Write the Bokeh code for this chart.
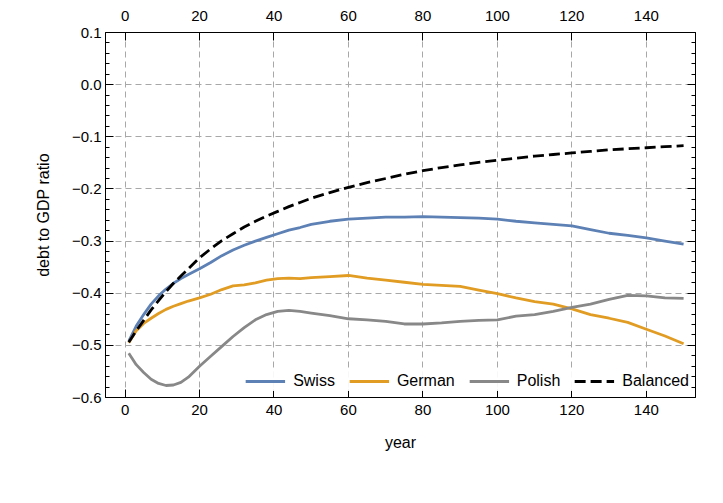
import numpy as np
from bokeh.plotting import figure
from bokeh.models import LinearAxis, FixedTicker, Legend, LegendItem, Range1d
from bokeh.embed import file_html
from bokeh.resources import INLINE

# ---- data ----
years = [1, 3, 5, 7, 9, 11, 13, 15, 17, 20, 23, 26, 29, 32, 35, 38, 41, 44, 47, 50,
         55, 60, 65, 70, 75, 80, 85, 90, 95, 100, 105, 110, 115, 120, 125, 130, 135, 140, 145, 150]

swiss = [-0.492, -0.463, -0.441, -0.421, -0.405, -0.392, -0.381, -0.372, -0.364, -0.353,
         -0.341, -0.328, -0.317, -0.308, -0.300, -0.293, -0.286, -0.279, -0.274, -0.268,
         -0.262, -0.258, -0.256, -0.254, -0.254, -0.253, -0.254, -0.255, -0.256, -0.258,
         -0.262, -0.265, -0.268, -0.271, -0.278, -0.285, -0.289, -0.294, -0.300, -0.306]

german = [-0.495, -0.472, -0.458, -0.448, -0.439, -0.431, -0.425, -0.420, -0.415, -0.409,
          -0.402, -0.393, -0.386, -0.384, -0.380, -0.375, -0.372, -0.371, -0.372, -0.370,
          -0.368, -0.366, -0.371, -0.375, -0.379, -0.383, -0.385, -0.387, -0.394, -0.401,
          -0.409, -0.416, -0.421, -0.430, -0.441, -0.448, -0.456, -0.469, -0.482, -0.497]

polish = [-0.515, -0.537, -0.552, -0.565, -0.573, -0.577, -0.576, -0.571, -0.561, -0.540,
          -0.521, -0.502, -0.483, -0.466, -0.451, -0.441, -0.435, -0.433, -0.435, -0.438,
          -0.443, -0.449, -0.451, -0.454, -0.459, -0.459, -0.457, -0.454, -0.452, -0.451,
          -0.444, -0.441, -0.435, -0.427, -0.421, -0.412, -0.404, -0.405, -0.409, -0.410]

balanced = [-0.494, -0.472, -0.452, -0.432, -0.414, -0.397, -0.381, -0.367, -0.353, -0.332,
            -0.315, -0.299, -0.286, -0.273, -0.262, -0.252, -0.243, -0.234, -0.226, -0.218,
            -0.207, -0.197, -0.188, -0.180, -0.172, -0.165, -0.159, -0.154, -0.149, -0.145,
            -0.141, -0.137, -0.134, -0.131, -0.128, -0.125, -0.123, -0.121, -0.119, -0.117]

series_names = ["Swiss", "German", "Polish", "Balanced"]

x_ticks = [0, 20, 40, 60, 80, 100, 120, 140]
y_ticks = [-0.6, -0.5, -0.4, -0.3, -0.2, -0.1, 0.0, 0.1]
y_tick_labels = ["\u22120.6", "\u22120.5", "\u22120.4", "\u22120.3", "\u22120.2", "\u22120.1", "0.0", "0.1"]
y_minor = [float(v) for v in np.round(np.arange(-0.6, 0.1001, 0.02), 2)]

FONT = "Liberation Sans"

# total: 105 + 590 + 20 = 715 wide, 32 + 365 + 98 = 495 high
p = figure(frame_width=590, frame_height=365,
           min_border_left=105, min_border_right=20, min_border_top=32, min_border_bottom=98,
           x_range=Range1d(-5.25, 153.2), y_range=Range1d(-0.6, 0.1),
           output_backend="svg", toolbar_location=None)
p.outline_line_color = None
p.background_fill_color = "white"

xt = FixedTicker(ticks=x_ticks)
yt = FixedTicker(ticks=y_ticks, minor_ticks=y_minor)

bottom_axis = p.below[0]
left_axis = p.left[0]
bottom_axis.ticker = xt
left_axis.ticker = yt
p.xgrid.ticker = xt
p.ygrid.ticker = yt

top_axis = LinearAxis(ticker=xt)
p.add_layout(top_axis, "above")
right_axis = LinearAxis(ticker=yt, major_label_overrides={t: "" for t in y_ticks})
p.add_layout(right_axis, "right")

for ax in [bottom_axis, left_axis, top_axis, right_axis]:
    ax.axis_line_color = "black"
    ax.axis_line_width = 1
    ax.major_tick_in = 8
    ax.major_tick_out = 0
    ax.minor_tick_in = 4
    ax.minor_tick_out = 0
    ax.major_tick_line_color = "black"
    ax.minor_tick_line_color = "black"
    ax.major_label_text_font = FONT
    ax.major_label_text_font_size = "15px"
    ax.major_label_text_color = "black"
    ax.axis_label_text_font = FONT
    ax.axis_label_text_font_size = "16px"
    ax.axis_label_text_font_style = "normal"
    ax.axis_label_text_color = "black"

for ax in [bottom_axis, top_axis]:
    ax.minor_tick_in = 0

bottom_axis.major_label_standoff = 7
top_axis.major_label_standoff = 12
bottom_axis.axis_label = "year"
bottom_axis.axis_label_standoff = 16
left_axis.axis_label = "debt to GDP ratio"
left_axis.axis_label_standoff = 17
left_axis.major_label_overrides = dict(zip(y_ticks, y_tick_labels))
left_axis.major_label_standoff = 4
right_axis.major_label_standoff = 0
right_axis.major_label_text_font_size = "0px"

p.grid.grid_line_color = "#a8a8a8"
p.grid.grid_line_dash = "6 4"
p.grid.grid_line_width = 1

r1 = p.line(years, swiss, line_color="#5e81b5", line_width=2.8)
r2 = p.line(years, german, line_color="#e19c24", line_width=2.8)
r3 = p.line(years, polish, line_color="#888888", line_width=2.8)
r4 = p.line(years, balanced, line_color="black", line_width=2.8, line_dash="11 5")

legend = Legend(items=[LegendItem(label=n, renderers=[r]) for n, r in zip(series_names, [r1, r2, r3, r4])],
                orientation="horizontal", location="bottom_right",
                glyph_width=40, glyph_height=20, label_height=20, label_standoff=8, spacing=14,
                padding=4, margin=6, border_line_color=None,
                background_fill_color="white", background_fill_alpha=0.9,
                label_text_font=FONT, label_text_font_size="16px", label_text_color="black")
p.add_layout(legend, "center")

open("out.html", "w").write(file_html(p, INLINE))
